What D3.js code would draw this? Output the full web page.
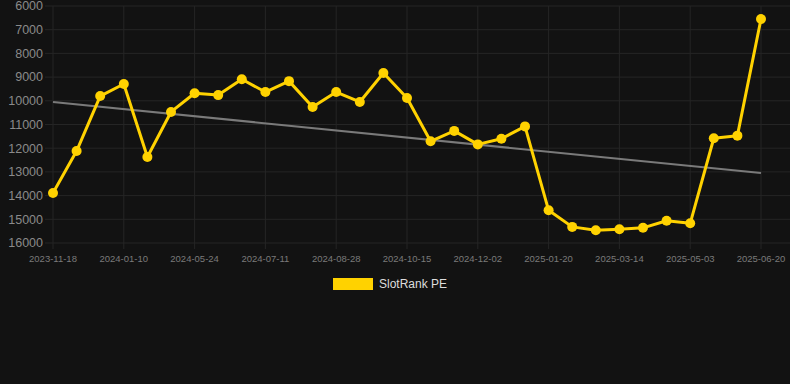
<!DOCTYPE html>
<html><head><meta charset="utf-8">
<script src="https://cdn.jsdelivr.net/npm/d3@7"></script>
<style>html,body{margin:0;padding:0;background:#121212;}svg{display:block;font-family:Arial,"Liberation Sans",sans-serif;}</style>
</head><body>
<svg id="c" width="790" height="384"></svg>
<script>
const seriesName = "SlotRank PE";
const values = [13890,12120,9800,9290,12370,10470,9680,9760,9090,9630,9170,10260,9630,10050,8830,9880,11710,11270,11840,11600,11080,14620,15320,15460,15420,15360,15060,15170,11580,11470,6550];
const tickLabels = ["2023-11-18","2024-01-10","2024-05-24","2024-07-11","2024-08-28","2024-10-15","2024-12-02","2025-01-20","2025-03-14","2025-05-03","2025-06-20"];
const tickEvery = 3;
const yTicks = [6000,7000,8000,9000,10000,11000,12000,13000,14000,15000,16000];
const trendStart = 10050, trendEnd = 13050;

(function(){
const svg = d3.select("#c");
const W = 790, H = 384;
const mLeft = 45, mRight = 790, mTop = 6, mBottom = 243;
svg.append("rect").attr("width",W).attr("height",H).attr("fill","#121212");

const x = d3.scaleLinear().domain([0, values.length-1]).range([53, 761]);
const y = d3.scaleLinear().domain([6000,16000]).range([mTop, mBottom]);

const gy = svg.append("g");
gy.selectAll("line").data(yTicks).join("line")
  .attr("x1",mLeft).attr("x2",mRight).attr("y1",d=>y(d)).attr("y2",d=>y(d))
  .attr("stroke","#252525").attr("stroke-width",1);
gy.selectAll("text").data(yTicks).join("text")
  .attr("x",43).attr("y",d=>y(d)).attr("dy","0.35em").attr("text-anchor","end")
  .attr("fill","#8a8a8a").attr("font-size",12.5).text(d=>d);

const tickIdx = tickLabels.map((l,i)=>i*tickEvery);
const gx = svg.append("g");
gx.selectAll("line").data(tickIdx).join("line")
  .attr("x1",d=>x(d)).attr("x2",d=>x(d)).attr("y1",mTop).attr("y2",mBottom+6)
  .attr("stroke","#252525").attr("stroke-width",1);
gx.selectAll("text").data(tickLabels).join("text")
  .attr("x",(d,i)=>x(tickIdx[i])).attr("y",259).attr("dy","0.35em").attr("text-anchor","middle")
  .attr("fill","#7a7a7a").attr("font-size",9.5).text(d=>d);

svg.append("line")
  .attr("x1",x(0)).attr("x2",x(values.length-1)).attr("y1",y(trendStart)).attr("y2",y(trendEnd))
  .attr("stroke","#7a7a7a").attr("stroke-width",2);

const line = d3.line().x((d,i)=>x(i)).y(d=>y(d));
svg.append("path").datum(values).attr("d",line)
  .attr("fill","none").attr("stroke","#FFD200").attr("stroke-width",3).attr("stroke-linejoin","round");
svg.append("g").selectAll("circle").data(values).join("circle")
  .attr("cx",(d,i)=>x(i)).attr("cy",d=>y(d)).attr("r",5).attr("fill","#FFD200");

svg.append("rect").attr("x",333).attr("y",278).attr("width",40).attr("height",12).attr("fill","#FFD200");
svg.append("text").attr("x",379).attr("y",284).attr("dy","0.35em").attr("fill","#dddddd").attr("font-size",12).text(seriesName);
})();
</script>
</body></html>
